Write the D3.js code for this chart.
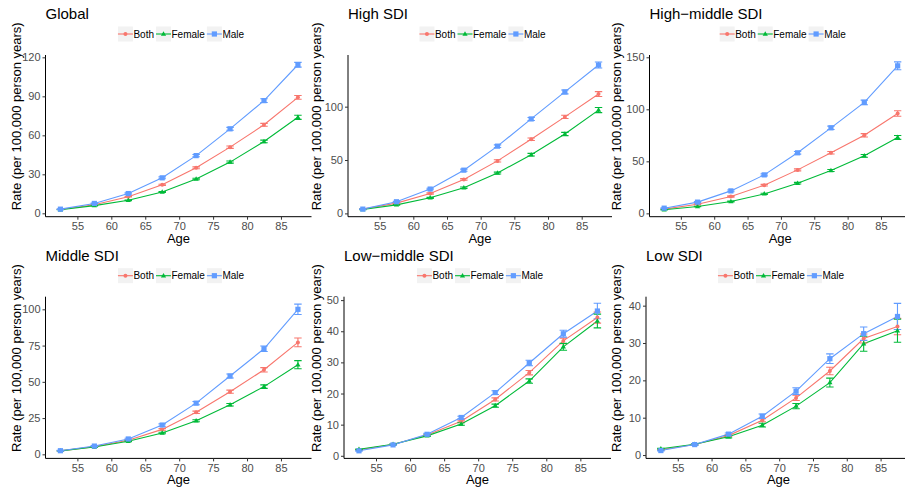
<!DOCTYPE html>
<html>
<head>
<meta charset="utf-8">
<script src="https://cdn.jsdelivr.net/npm/d3@7"></script>
<style>
  body { margin: 0; background: #fff; }
  text { font-family: "Liberation Sans", Arial, Helvetica, sans-serif; }
</style>
</head>
<body>
<div id="chart"></div>
<script>
// age group midpoints (50-54 ... 85-89)
const ages = [52.5, 57.5, 62.5, 67.5, 72.5, 77.5, 82.5, 87.5];
const sexes = ["Both", "Female", "Male"];
const xTicks = [55, 60, 65, 70, 75, 80, 85];

const regions = ["Global", "High SDI", "High\u2212middle SDI", "Middle SDI", "Low\u2212middle SDI", "Low SDI"];

// rates per 100,000 person years
const rateGlobal = {
  Both:   [3.0, 6.6, 12.8, 21.9, 35.0, 50.9, 68.1, 89.2],
  Female: [2.8, 5.9, 10.0, 16.4, 26.4, 39.4, 55.3, 73.9],
  Male:   [3.2, 7.6, 15.2, 27.3, 44.4, 65.0, 86.7, 114.3]
};
const errGlobal = {
  Both:   [0.1, 0.2, 0.3, 0.5, 0.7, 0.9, 1.1, 1.5],
  Female: [0.1, 0.2, 0.3, 0.4, 0.6, 0.8, 1.0, 1.6],
  Male:   [0.2, 0.3, 0.5, 0.7, 0.9, 1.1, 1.4, 1.8]
};
const rateHigh = {
  Both:   [4.0, 9.6, 18.6, 31.8, 49.2, 69.5, 90.4, 111.8],
  Female: [3.6, 8.0, 14.6, 24.0, 37.8, 55.0, 74.4, 96.8],
  Male:   [4.0, 10.9, 22.8, 40.5, 63.0, 88.5, 113.8, 139.0]
};
const errHigh = {
  Both:   [0.2, 0.4, 0.6, 0.8, 1.0, 1.2, 1.5, 2.3],
  Female: [0.2, 0.3, 0.5, 0.7, 0.9, 1.2, 1.5, 2.4],
  Male:   [0.3, 0.5, 0.7, 1.0, 1.2, 1.4, 1.8, 2.8]
};
const rateHighMiddle = {
  Both:   [4.1, 8.8, 16.2, 27.1, 41.8, 58.2, 75.0, 96.0],
  Female: [3.5, 6.6, 11.4, 18.7, 29.0, 41.2, 55.3, 73.0],
  Male:   [5.0, 10.8, 21.6, 37.0, 58.2, 82.2, 106.6, 141.8]
};
const errHighMiddle = {
  Both:   [0.2, 0.4, 0.6, 0.8, 1.0, 1.2, 1.6, 2.6],
  Female: [0.2, 0.3, 0.4, 0.6, 0.8, 1.0, 1.3, 1.9],
  Male:   [0.3, 0.5, 0.8, 1.0, 1.3, 1.6, 2.2, 3.8]
};
const rateMiddle = {
  Both:   [2.4, 5.3, 9.7, 17.2, 29.0, 43.2, 58.3, 77.2],
  Female: [2.4, 5.1, 9.0, 14.7, 23.2, 34.2, 46.7, 61.8],
  Male:   [2.5, 5.7, 10.6, 20.2, 35.3, 54.0, 72.8, 100.0]
};
const errMiddle = {
  Both:   [0.1, 0.2, 0.4, 0.6, 0.8, 1.1, 1.5, 3.0],
  Female: [0.1, 0.2, 0.3, 0.5, 0.7, 0.9, 1.2, 2.8],
  Male:   [0.2, 0.3, 0.5, 0.8, 1.1, 1.4, 1.9, 3.6]
};
const rateLowMiddle = {
  Both:   [1.9, 3.6, 6.7, 11.1, 18.1, 26.7, 36.9, 44.4],
  Female: [2.1, 3.7, 6.4, 10.2, 16.1, 24.0, 35.0, 43.3],
  Male:   [1.6, 3.5, 6.9, 12.3, 20.3, 29.8, 39.2, 46.5]
};
const errLowMiddle = {
  Both:   [0.1, 0.1, 0.2, 0.3, 0.5, 0.7, 0.9, 1.8],
  Female: [0.1, 0.1, 0.2, 0.4, 0.5, 0.7, 1.1, 2.2],
  Male:   [0.1, 0.2, 0.3, 0.4, 0.6, 0.9, 1.1, 2.5]
};
const rateLow = {
  Both:   [1.4, 2.8, 5.2, 9.3, 15.3, 22.5, 31.2, 34.4],
  Female: [1.7, 2.9, 4.9, 8.0, 13.1, 19.4, 29.8, 33.3],
  Male:   [1.2, 2.8, 5.6, 10.4, 17.1, 25.8, 32.5, 37.1]
};
const errLow = {
  Both:   [0.1, 0.1, 0.2, 0.4, 0.7, 1.0, 1.2, 2.2],
  Female: [0.1, 0.2, 0.3, 0.5, 0.7, 1.2, 2.0, 3.1],
  Male:   [0.1, 0.2, 0.3, 0.6, 0.9, 1.3, 1.8, 3.5]
};

const yTicksGlobal = [0, 30, 60, 90, 120];
const yTicksHigh = [0, 50, 100];
const yTicksHighMiddle = [0, 50, 100, 150];
const yTicksMiddle = [0, 25, 50, 75, 100];
const yTicksLowMiddle = [0, 10, 20, 30, 40, 50];
const yTicksLow = [0, 10, 20, 30, 40];

const rates = [rateGlobal, rateHigh, rateHighMiddle, rateMiddle, rateLowMiddle, rateLow];
const errs = [errGlobal, errHigh, errHighMiddle, errMiddle, errLowMiddle, errLow];
const yTicks = [yTicksGlobal, yTicksHigh, yTicksHighMiddle, yTicksMiddle, yTicksLowMiddle, yTicksLow];

// panel layout (pixels)
const W = 905, H = 493;
const rowOffset = 241.7;
const layout = [
  { cell: 0,   row: 0, left: 45.5,  width: 266,   ydom: [-2.6, 121.8] },
  { cell: 300, row: 0, left: 348,   width: 264,   ydom: [-3.1, 148.4] },
  { cell: 600, row: 0, left: 649.5, width: 261.5, ydom: [-3.2, 152.2] },
  { cell: 0,   row: 1, left: 45.5,  width: 266,   ydom: [-2.8, 108.7] },
  { cell: 300, row: 1, left: 344,   width: 267,   ydom: [-0.84, 51.1] },
  { cell: 600, row: 1, left: 646,   width: 265,   ydom: [-0.9, 42.4] }
];
const xdom = [50.3, 89.5];
const colors = { Both: "#F8766D", Female: "#00BA38", Male: "#619CFF" };

const svg = d3.select("#chart").append("svg")
  .attr("width", W).attr("height", H);

function marker(g, sex, cx, cy) {
  const c = colors[sex];
  if (sex === "Both") {
    g.append("circle").attr("cx", cx).attr("cy", cy).attr("r", 2).attr("fill", c);
  } else if (sex === "Female") {
    const s = 5.2, h = s * Math.sqrt(3) / 2;
    g.append("path")
      .attr("d", `M${cx},${cy - h * 0.62}L${cx + s / 2},${cy + h * 0.38}L${cx - s / 2},${cy + h * 0.38}Z`)
      .attr("fill", c);
  } else {
    g.append("rect").attr("x", cx - 2.6).attr("y", cy - 2.6)
      .attr("width", 5.2).attr("height", 5.2).attr("fill", c);
  }
}

layout.forEach((p, i) => {
  const dy = p.row * rowOffset;
  const top = 55 + dy, bottom = 216.7 + dy;
  const x = d3.scaleLinear().domain(xdom).range([p.left, p.left + p.width]);
  const y = d3.scaleLinear().domain(p.ydom).range([bottom, top]);
  const g = svg.append("g");

  // title
  g.append("text").attr("x", p.left).attr("y", 19 + dy)
    .attr("font-size", 15).attr("fill", "#000").text(regions[i]);

  // legend
  const keyW = 15, gap = 2;
  const lg = g.append("g");
  let cx = 0;
  sexes.forEach(s => {
    const ig = lg.append("g").attr("transform", `translate(${cx},0)`);
    ig.append("rect").attr("x", 0).attr("y", -7.5).attr("width", keyW).attr("height", 15)
      .attr("fill", "#F2F2F2");
    ig.append("line").attr("x1", 0).attr("x2", keyW).attr("y1", 0).attr("y2", 0)
      .attr("stroke", colors[s]).attr("stroke-width", 1.1);
    marker(ig, s, keyW / 2, 0);
    const t = ig.append("text").attr("x", keyW + 0.5).attr("y", 3.6)
      .attr("font-size", 10).attr("fill", "#000").text(s);
    cx += keyW + 0.5 + t.node().getComputedTextLength() + gap;
  });
  const lw = cx - gap;
  lg.attr("transform", `translate(${p.left + p.width / 2 + 2.5 - lw / 2},${34 + dy})`);

  // axes
  const ya = g.append("g").attr("transform", `translate(${p.left},0)`)
    .call(d3.axisLeft(y).tickValues(yTicks[i]).tickSize(3).tickPadding(2).tickSizeOuter(0));
  const xa = g.append("g").attr("transform", `translate(0,${bottom})`)
    .call(d3.axisBottom(x).tickValues(xTicks).tickSize(3).tickPadding(2.5).tickSizeOuter(0));
  [ya, xa].forEach(a => {
    a.select(".domain").attr("stroke", "#000").attr("stroke-width", 1);
    a.selectAll(".tick line").attr("stroke", "#333").attr("stroke-width", 1);
    a.selectAll(".tick text").attr("font-size", 11).attr("fill", "#4D4D4D")
      .attr("font-family", "Liberation Sans, Arial, sans-serif");
  });
  // ggplot axis lines end at the panel edge
  ya.select(".domain").attr("d", `M0,${top}V${bottom}`);
  xa.select(".domain").attr("d", `M${p.left},0H${p.left + p.width}`);

  // axis titles
  g.append("text").attr("x", p.left + p.width / 2).attr("y", 242.6 + dy)
    .attr("text-anchor", "middle").attr("font-size", 13).attr("fill", "#000").text("Age");
  g.append("text")
    .attr("transform", `translate(${p.cell + 16.5},${(top + bottom) / 2 - 19.5}) rotate(-90)`)
    .attr("text-anchor", "middle").attr("dy", "0.35em")
    .attr("font-size", 13).attr("fill", "#000").text("Rate (per 100,000 person years)");

  // series
  const plot = g.append("g");
  const line = d3.line().x(d => x(d.age)).y(d => y(d.v));
  const series = sexes.map(s => ({
    s, pts: ages.map((a, k) => ({ age: a, v: rates[i][s][k], e: errs[i][s][k] }))
  }));
  series.forEach(se => {
    plot.append("path").datum(se.pts).attr("d", line)
      .attr("fill", "none").attr("stroke", colors[se.s]).attr("stroke-width", 1.1);
  });
  series.forEach(se => {
    se.pts.forEach(d => {
      const c = colors[se.s];
      const x0 = x(d.age - 0.55), x1 = x(d.age + 0.55);
      const yl = y(d.v - d.e), yh = y(d.v + d.e);
      plot.append("path")
        .attr("d", `M${x0},${yh}H${x1}M${x(d.age)},${yh}V${yl}M${x0},${yl}H${x1}`)
        .attr("fill", "none").attr("stroke", c).attr("stroke-width", 1.1);
    });
  });
  series.forEach(se => {
    se.pts.forEach(d => marker(plot, se.s, x(d.age), y(d.v)));
  });
});
</script>
</body>
</html>
